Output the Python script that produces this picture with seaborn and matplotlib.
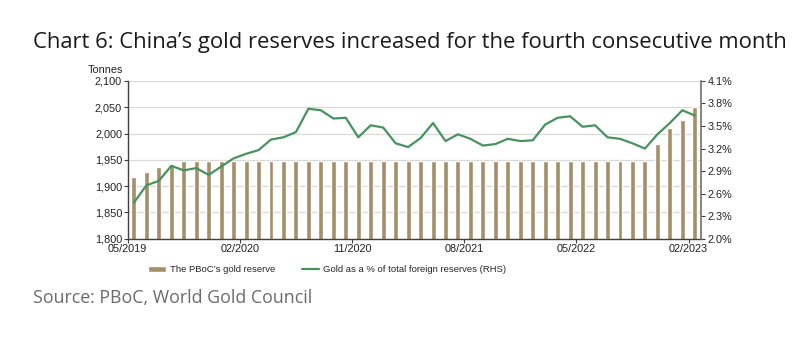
import numpy as np
import pandas as pd
import matplotlib
matplotlib.use("Agg")
import matplotlib.pyplot as plt
import seaborn as sns
from matplotlib.ticker import FuncFormatter

# 월별 데이터 (05/2019 ~ 02/2023)
months = pd.date_range("2019-05-01", "2023-02-01", freq="MS").strftime("%m/%Y").tolist()

# PBoC 금 보유량 (톤)
reserve = [1916.5, 1926.5, 1936.5, 1942.4] + [1948.3] * 38 + [1980.3, 2010.4, 2025.3, 2050.3]

# 총 외환보유액 중 금 비중 (%)
gold_pct = [2.48, 2.71, 2.77, 2.97, 2.91, 2.94, 2.85, 2.96, 3.07, 3.13,
            3.18, 3.32, 3.35, 3.42, 3.73, 3.71, 3.60, 3.61, 3.35, 3.51,
            3.48, 3.27, 3.22, 3.34, 3.54, 3.30, 3.39, 3.33, 3.24, 3.26,
            3.33, 3.30, 3.31, 3.52, 3.61, 3.63, 3.49, 3.51, 3.35, 3.33,
            3.27, 3.20, 3.39, 3.54, 3.71, 3.64]

tick_labels = ["05/2019", "02/2020", "11/2020", "08/2021", "05/2022", "02/2023"]

df = pd.DataFrame({"month": months, "reserve": reserve, "pct": gold_pct})
df["pos"] = np.arange(len(df))

bar_color = "#A38F68"
line_color = "#46935F"

sns.set_style("white")
plt.rcParams["font.family"] = ["Liberation Sans", "DejaVu Sans"]

fig = plt.figure(figsize=(8.08, 3.59), dpi=100)
ax = fig.add_axes([0.158, 0.335, 0.7096, 0.4395])

sns.barplot(data=df, x="month", y="reserve", color=bar_color, width=0.4,
            saturation=1, ax=ax, label="The PBoC\u2019s gold reserve")
ax.set_ylim(1800, 2100)
ax.set_yticks(np.arange(1800, 2101, 50))
ax.yaxis.set_major_formatter(FuncFormatter(lambda v, p: f"{v:,.0f}"))
ax.grid(axis="y", color="#D9D9D9", linewidth=0.9)
ax.set_axisbelow(True)
ax.set_xlim(-0.5, len(df) - 0.5)
ax.set_xticks(np.arange(len(tick_labels)) * 9 - 0.5)
ax.set_xticklabels(tick_labels)
ax.set_xlabel("")
ax.set_ylabel("")
ax.tick_params(axis="both", labelsize=7.8, length=3, direction="out", color="#404040",
               colors="#222222", pad=1)
ax.tick_params(axis="x", bottom=True, pad=1)
ax.tick_params(axis="y", left=True)
for s in ["top", "right"]:
    ax.spines[s].set_visible(False)
for s in ["left", "bottom"]:
    ax.spines[s].set_color("#404040")
    ax.spines[s].set_linewidth(1.0)
ax.text(-0.07, 1.04, "Tonnes", transform=ax.transAxes, fontsize=7.8, color="#222222",
        ha="left", va="bottom")

ax2 = ax.twinx()
sns.lineplot(data=df, x="pos", y="pct", color=line_color, linewidth=1.6, ax=ax2,
             label="Gold as a % of total foreign reserves (RHS)")
ax2.set_ylim(2.0, 4.1)
ax2.set_yticks(np.arange(2.0, 4.11, 0.3))
ax2.yaxis.set_major_formatter(FuncFormatter(lambda v, p: f"{v:.1f}%"))
ax2.set_ylabel("")
ax2.set_xlim(-0.5, len(df) - 0.5)
ax2.tick_params(axis="y", labelsize=7.8, length=3, direction="out", right=True,
                color="#404040", colors="#222222", pad=2)
ax2.spines["top"].set_visible(False)
ax2.spines["left"].set_visible(False)
ax2.spines["bottom"].set_visible(False)
ax2.spines["right"].set_color("#707070")
ax2.spines["right"].set_linewidth(1.2)
ax2.grid(False)

h1, l1 = ax.get_legend_handles_labels()
h2, l2 = ax2.get_legend_handles_labels()
if ax.get_legend():
    ax.get_legend().remove()
if ax2.get_legend():
    ax2.get_legend().remove()
fig.legend(h1 + h2, l1 + l2, loc="center", bbox_to_anchor=(0.405, 0.248), ncol=2,
           frameon=False, fontsize=6.8, handlelength=1.9, handleheight=0.5,
           columnspacing=2.8, handletextpad=0.4)

fig.text(0.041, 0.883, "Chart 6: China\u2019s gold reserves increased for the fourth consecutive month",
         fontsize=15.8, family=["Open Sans", "DejaVu Sans"], color="#1a1a1a", ha="left", va="center")
fig.text(0.041, 0.17, "Source: PBoC, World Gold Council", fontsize=12.8,
         family=["Open Sans", "DejaVu Sans"], color="#6a6a6a", ha="left", va="center")

fig.savefig("out.png", dpi=100)
